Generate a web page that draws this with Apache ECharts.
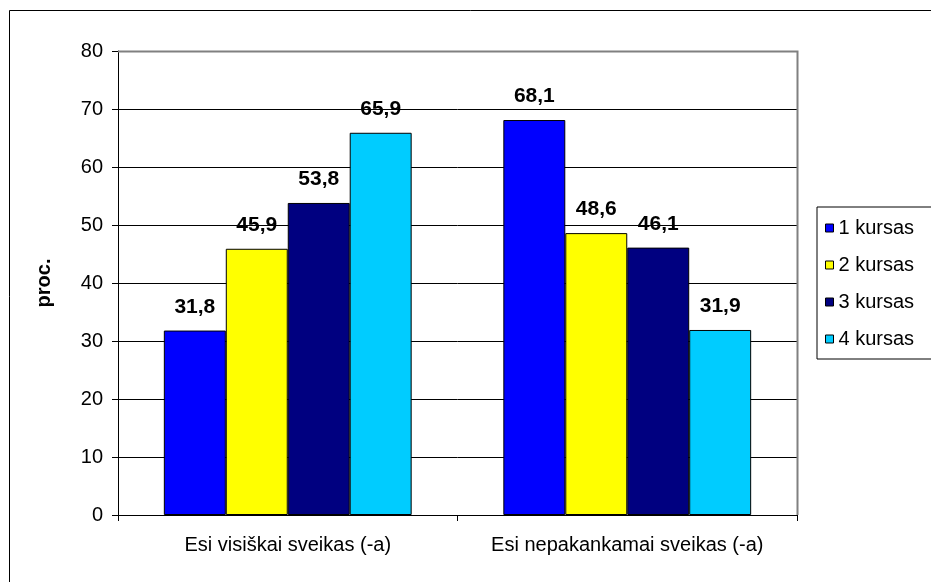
<!DOCTYPE html>
<html>
<head>
<meta charset="utf-8">
<script src="https://cdn.jsdelivr.net/npm/echarts@6/dist/echarts.min.js"></script>
<style>
  html, body { margin: 0; padding: 0; background: #fff; }
  #chart { width: 931px; height: 582px; }
</style>
</head>
<body>
<div id="chart"></div>
<script>
// duomenys
var categories = ['Esi visiškai sveikas (-a)', 'Esi nepakankamai sveikas (-a)'];
var seriesNames = ['1 kursas', '2 kursas', '3 kursas', '4 kursas'];
var kursas1 = [31.8, 68.1];
var kursas2 = [45.9, 48.6];
var kursas3 = [53.8, 46.1];
var kursas4 = [65.9, 31.9];
var colors = ['#0000ff', '#ffff00', '#000080', '#00ccff'];

var font = 'Liberation Sans, Arial, sans-serif';

function makeSeries(name, data, color) {
  return {
    name: name,
    type: 'bar',
    data: data,
    barGap: '0%',
    barCategoryGap: '27%',
    itemStyle: { color: color, borderColor: '#000', borderWidth: 1 },
    label: {
      show: true,
      position: 'top',
      distance: 13,
      fontFamily: font,
      fontSize: 21,
      fontWeight: 'bold',
      color: '#000',
      formatter: function (p) { return p.value.toFixed(1).replace('.', ','); }
    }
  };
}

var myChart = echarts.init(document.getElementById('chart'));
var option = {
  animation: false,
  backgroundColor: '#fff',
  color: colors,
  graphic: [
    {
      type: 'rect',
      shape: { x: 9.5, y: 10.5, width: 940, height: 600 },
      style: { fill: 'none', stroke: '#000', lineWidth: 1 },
      z: -1
    },
    {
      type: 'polyline',
      shape: { points: [[118, 51.5], [797.5, 51.5], [797.5, 515]] },
      style: { fill: 'none', stroke: '#808080', lineWidth: 2 },
      z: 10
    }
  ],
  grid: { left: 118, right: 134, top: 51, bottom: 67 },
  legend: {
    orient: 'vertical',
    left: 817,
    top: 207,
    padding: [11, 30, 10, 8],
    borderColor: '#000',
    borderWidth: 1,
    itemWidth: 8,
    itemHeight: 8,
    itemGap: 17,
    icon: 'rect',
    itemStyle: { borderColor: '#000', borderWidth: 1 },
    textStyle: { fontFamily: font, fontSize: 20, color: '#000', lineHeight: 20 },
    data: seriesNames
  },
  xAxis: {
    type: 'category',
    data: categories,
    axisLine: { lineStyle: { color: '#000', width: 1 } },
    axisTick: { show: true, length: 6, lineStyle: { color: '#000' } },
    axisLabel: { interval: 0, fontFamily: font, fontSize: 20, color: '#000', margin: 20 }
  },
  yAxis: {
    type: 'value',
    min: 0,
    max: 80,
    interval: 10,
    name: 'proc.',
    nameLocation: 'middle',
    nameGap: 64,
    nameTextStyle: { fontFamily: font, fontSize: 20, fontWeight: 'bold', color: '#000' },
    axisLine: { show: true, lineStyle: { color: '#000', width: 1 } },
    axisTick: { show: true, length: 6, lineStyle: { color: '#000' } },
    axisLabel: { fontFamily: font, fontSize: 20, color: '#000', margin: 15 },
    splitLine: { show: true, lineStyle: { color: '#000', width: 1 } }
  },
  series: [
    makeSeries(seriesNames[0], kursas1, colors[0]),
    makeSeries(seriesNames[1], kursas2, colors[1]),
    makeSeries(seriesNames[2], kursas3, colors[2]),
    makeSeries(seriesNames[3], kursas4, colors[3])
  ]
};
myChart.setOption(option);
</script>
</body>
</html>
